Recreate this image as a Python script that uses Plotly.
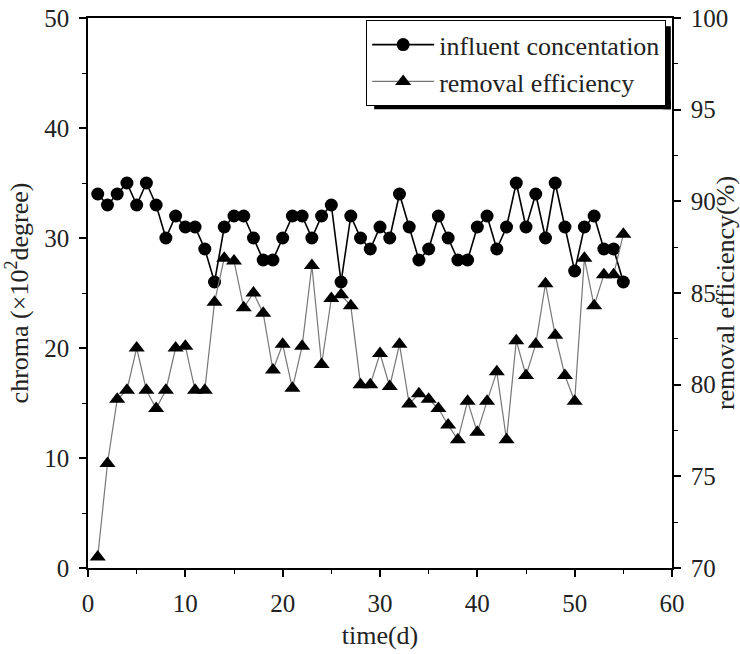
import plotly.graph_objects as go

days = list(range(1, 56))

influent = [
    34, 33, 34, 35, 33, 35, 33, 30, 32, 31,
    31, 29, 26, 31, 32, 32, 30, 28, 28, 30,
    32, 32, 30, 32, 33, 26, 32, 30, 29, 31,
    30, 34, 31, 28, 29, 32, 30, 28, 28, 31,
    32, 29, 31, 35, 31, 34, 30, 35, 31, 27,
    31, 32, 29, 29, 26,
]

removal = [
    70.6, 75.7, 79.2, 79.7, 82.0, 79.7, 78.7, 79.7, 82.0, 82.1,
    79.7, 79.7, 84.5, 86.9, 86.75, 84.2, 85.0, 83.9, 80.8, 82.2,
    79.8, 82.1, 86.5, 81.1, 84.7, 84.9, 84.3, 80.0, 80.0, 81.7,
    79.9, 82.2, 78.95, 79.5, 79.2, 78.7, 77.8, 77.0, 79.1, 77.4,
    79.1, 80.7, 77.0, 82.4, 80.5, 82.2, 85.5, 82.7, 80.5, 79.1,
    86.9, 84.3, 86.0, 86.0, 88.2,
]

FONT = "Liberation Serif"

fig = go.Figure()

fig.add_trace(
    go.Scatter(
        x=days,
        y=influent,
        name="influent concentation",
        mode="lines+markers",
        line=dict(color="black", width=1.6),
        marker=dict(symbol="circle", size=13, color="black"),
        yaxis="y",
    )
)
fig.add_trace(
    go.Scatter(
        x=days,
        y=removal,
        name="removal efficiency",
        mode="lines+markers",
        line=dict(color="#777777", width=1.2),
        marker=dict(symbol="triangle-up", size=14, color="black"),
        yaxis="y2",
    )
)

axis_common = dict(
    showline=True,
    linecolor="black",
    linewidth=1.5,
    ticks="outside",
    ticklen=7,
    tickwidth=1.5,
    tickcolor="black",
    showgrid=False,
    zeroline=False,
    automargin=False,
    ticklabeloverflow="allow",
    ticklabelstandoff=5,
    tickfont=dict(family=FONT, size=25, color="#222"),
    title_font=dict(family=FONT, size=26, color="#222"),
)
minor_ticks = dict(ticks="outside", ticklen=4, tickcolor="black", tickwidth=1.2)

fig.update_layout(
    width=740,
    height=654,
    margin=dict(l=88, r=68, t=18, b=86),
    paper_bgcolor="white",
    plot_bgcolor="white",
    font=dict(family=FONT, color="#222"),
    xaxis=dict(
        range=[0, 60],
        dtick=10,
        minor=dict(dtick=5, **minor_ticks),
        mirror=True,
        title=dict(text="time(d)", standoff=10),
        **axis_common,
    ),
    yaxis=dict(
        range=[0, 50],
        dtick=10,
        minor=dict(dtick=5, **minor_ticks),
        title=dict(text="chroma (×10<sup>2</sup>degree)", standoff=8),
        **axis_common,
    ),
    yaxis2=dict(
        range=[70, 100],
        dtick=5,
        minor=dict(dtick=2.5, **minor_ticks),
        overlaying="y",
        side="right",
        anchor="x",
        title=dict(text="removal efficiency(%)", standoff=2),
        **axis_common,
    ),
    legend=dict(
        x=0.99,
        y=0.996,
        xanchor="right",
        yanchor="top",
        bgcolor="white",
        bordercolor="black",
        borderwidth=1,
        font=dict(family=FONT, size=26, color="#222"),
        tracegroupgap=0,
        itemwidth=62,
        itemsizing="trace",
    ),
    showlegend=True,
)

# drop shadow along the right and bottom of the legend box
shadow = dict(
    type="rect",
    xref="paper",
    yref="paper",
    fillcolor="black",
    line=dict(width=0),
    layer="above",
)
fig.add_shape(x0=0.985, x1=0.998, y0=0.834, y1=0.985, **shadow)
fig.add_shape(x0=0.49, x1=0.998, y0=0.834, y1=0.85, **shadow)

# the default page has an 8px body margin; drop it so the figure sits at 0,0
fig.write_html(
    "out.html",
    config={"displayModeBar": False},
    post_script="document.body.style.margin='0';",
)
